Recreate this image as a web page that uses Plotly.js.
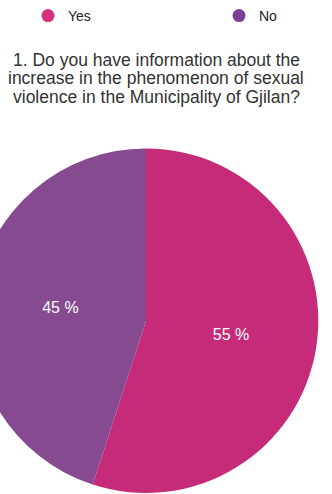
<!DOCTYPE html>
<html>
<head>
<meta charset="utf-8">
<script src="https://cdn.plot.ly/plotly-3.0.1.min.js"></script>
<style>
html,body{margin:0;padding:0;overflow:hidden;background:#fff;width:332px;height:494px;}
#chart{position:absolute;left:-40px;top:0;width:412px;height:494px;}
</style>
</head>
<body>
<div id="chart"></div>
<script>
var categories = ['Yes', 'No'];
var values = [55, 45];
var colors = ['#c62b79', '#854a90'];
var legendColors = ['#d6307f', '#7d3f93'];
var titleLines = [
  '1. Do you have information about the',
  'increase in the phenomenon of sexual',
  'violence in the Municipality of Gjilan?'
];

var W = 412, H = 494;
var cx = 186, cyTop = 320, R = 173;
var FONT = 'Liberation Sans, Arial, sans-serif';

var traces = [{
  type: 'pie',
  labels: categories,
  values: values,
  sort: false,
  direction: 'clockwise',
  rotation: 0,
  marker: {colors: colors, line: {width: 0}},
  texttemplate: '%{value} %',
  textposition: 'inside',
  insidetextorientation: 'horizontal',
  textfont: {color: '#ffffff', size: 16, family: FONT},
  hoverinfo: 'none',
  showlegend: false,
  domain: {x: [(cx - R) / W, (cx + R) / W], y: [(H - cyTop - R) / H, (H - cyTop + R) / H]}
}];

var legendIds = ['legend', 'legend2'];
categories.forEach(function (c, i) {
  traces.push({
    type: 'scatter', mode: 'markers', x: [null], y: [null], name: c,
    marker: {color: legendColors[i], size: 13, symbol: 'circle'},
    showlegend: true, hoverinfo: 'none', legend: legendIds[i]
  });
});

var legendBase = {
  orientation: 'h', xanchor: 'left', yanchor: 'top',
  y: 1 + 2 / H,
  font: {size: 14, color: '#222222', family: FONT},
  bgcolor: 'rgba(0,0,0,0)'
};
var legendXs = [68, 259];

var annotations = titleLines.map(function (t, i) {
  return {
    text: t, showarrow: false,
    xref: 'paper', yref: 'paper',
    x: 196 / W, xanchor: 'center',
    y: 1 - (58 + i * 18.5) / H, yanchor: 'middle',
    font: {size: 17.5, color: '#333333', family: FONT}
  };
});

var layout = {
  width: W, height: H,
  margin: {l: 0, r: 0, t: 0, b: 0},
  paper_bgcolor: '#ffffff', plot_bgcolor: 'rgba(0,0,0,0)',
  font: {family: FONT, color: '#222'},
  xaxis: {visible: false}, yaxis: {visible: false},
  showlegend: true,
  legend: Object.assign({}, legendBase, {x: legendXs[0] / W}),
  legend2: Object.assign({}, legendBase, {x: legendXs[1] / W}),
  annotations: annotations
};

Plotly.newPlot('chart', traces, layout, {displayModeBar: false, staticPlot: true});
</script>
</body>
</html>
